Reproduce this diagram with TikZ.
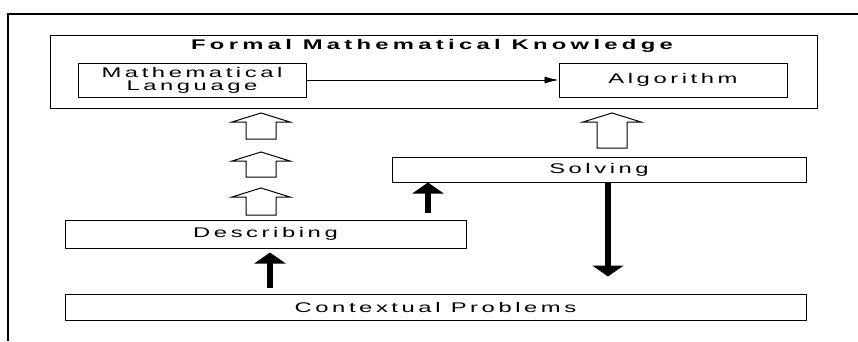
\documentclass[tikz,border=0pt]{standalone}
\usepackage{graphicx}
\usepackage{fontspec}
\newfontfamily\wf[LetterSpace=15]{Liberation Sans}
\newfontfamily\wfb[LetterSpace=18]{Liberation Sans Bold}
\newcommand{\wt}[1]{\scalebox{1.7}[1]{#1}}
\usetikzlibrary{arrows.meta}
\begin{document}
\begin{tikzpicture}[x=1pt,y=-1pt,
  box/.style={draw,line width=1pt,inner sep=0pt,align=center,
    font=\wf\fontsize{14}{13}\selectfont},
  titletext/.style={inner sep=0pt,font=\wfb\fontsize{14}{14}\selectfont},
  thinarrow/.style={line width=0.8pt,-{Latex[length=14pt,width=7pt]}},
  solidarrow/.style={line width=6pt,-{Triangle[length=11pt,width=31pt]}},
  pics/harrow/.style={code={\draw[line width=1pt,line join=miter]
     (-15,0) -- (-15,-#1+9) -- (-29,-#1+9) -- (0,-#1) -- (29,-#1+9)
     -- (15,-#1+9) -- (15,0) -- cycle;}}]
\useasboundingbox (0,0) rectangle (858,341);
\draw[line width=1.5pt] (8,341) -- (8,14) -- (858,14);

\node[box,minimum width=767pt,minimum height=73pt] (fmk) at (433.5,71.5) {};
\node[titletext] (title) at (432,46) {\wt{Formal Mathematical Knowledge}};
\node[box,minimum width=228pt,minimum height=34pt] (ml) at (192,80) {\wt{Mathematical}\\\wt{Language}};
\node[box,minimum width=228pt,minimum height=34pt] (alg) at (673,80) {\wt{Algorithm}};
\node[box,minimum width=414pt,minimum height=25pt] (solv) at (599,169.5) {\wt{Solving}};
\node[box,minimum width=401pt,minimum height=28pt] (desc) at (265.5,234) {\wt{Describing}};
\node[box,minimum width=741pt,minimum height=26pt] (ctx) at (435.5,307) {\wt{Contextual Problems}};

\draw[thinarrow] (ml) -- (alg);

\pic at (261,139) {harrow=26};
\pic at (261,177) {harrow=25};
\pic at (261,215) {harrow=27};
\pic at (612,148) {harrow=35};

\coordinate (c1) at (270,0);
\coordinate (c2) at (428,213);
\coordinate (c3) at (608,0);
\draw[solidarrow,shorten <=6pt,shorten >=4pt] (c1 |- ctx.north) -- (c1 |- desc.south);
\draw[solidarrow] (c2) -- (c2 |- solv.south);
\draw[solidarrow,shorten >=17pt] (c3 |- solv.south) -- (c3 |- ctx.north);
\end{tikzpicture}
\end{document}
